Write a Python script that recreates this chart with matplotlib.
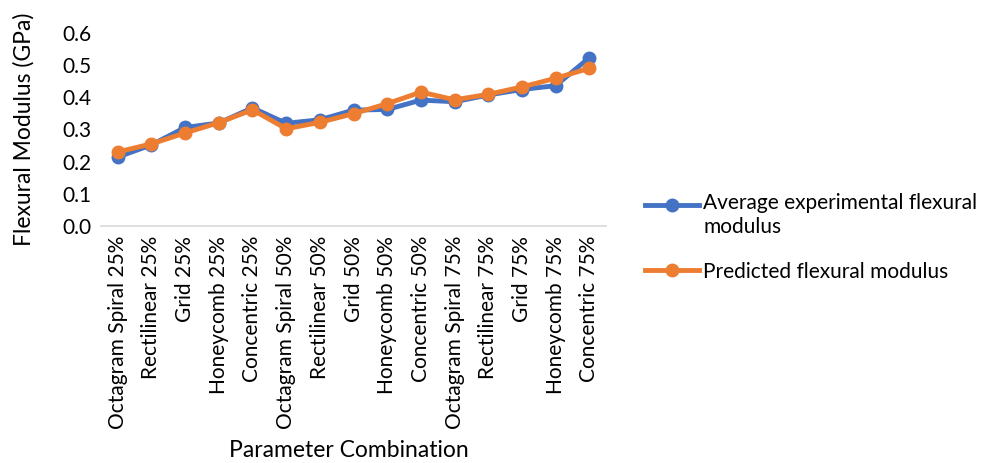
import matplotlib
matplotlib.use("Agg")
import matplotlib.pyplot as plt
from matplotlib.legend_handler import HandlerLine2D

plt.rcParams['font.family'] = ['Lato', 'DejaVu Sans']

categories = [
    "Octagram Spiral 25%", "Rectilinear 25%", "Grid 25%", "Honeycomb 25%", "Concentric 25%",
    "Octagram Spiral 50%", "Rectilinear 50%", "Grid 50%", "Honeycomb 50%", "Concentric 50%",
    "Octagram Spiral 75%", "Rectilinear 75%", "Grid 75%", "Honeycomb 75%", "Concentric 75%",
]
experimental = [0.214, 0.252, 0.306, 0.320, 0.367, 0.319, 0.330, 0.360, 0.362, 0.391,
                0.386, 0.407, 0.424, 0.436, 0.523]
predicted = [0.230, 0.255, 0.289, 0.321, 0.361, 0.302, 0.322, 0.349, 0.380, 0.416,
             0.392, 0.409, 0.432, 0.459, 0.490]


class TopLineHandler(HandlerLine2D):
    """Legend handle aligned with the first line of a wrapped label."""

    def __init__(self, shift, **kw):
        super().__init__(**kw)
        self.shift = shift

    def create_artists(self, *args, **kwargs):
        artists = super().create_artists(*args, **kwargs)
        for a in artists:
            a.set_ydata([y + self.shift for y in a.get_ydata()])
        return artists


fig = plt.figure(figsize=(9.89, 4.63), dpi=100)
ax = fig.add_axes([0.102, 0.512, 0.511, 0.417])

x = range(len(categories))
l1, = ax.plot(x, experimental, color="#4472C4", lw=3.5, marker="o", ms=9,
              label="Average experimental flexural\nmodulus", zorder=3)
l2, = ax.plot(x, predicted, color="#ED7D31", lw=3.5, marker="o", ms=9,
              label="Predicted flexural modulus", zorder=4)

ax.set_xlim(-0.5, len(categories) - 0.5)
ax.set_ylim(0, 0.6)
yt = [0.0, 0.1, 0.2, 0.3, 0.4, 0.5, 0.6]
ax.set_yticks(yt)
ax.set_yticklabels([f"{v:.1f}" for v in yt], fontsize=15)
ax.set_xticks(list(x))
ax.set_xticklabels(categories, rotation=90, fontsize=15)
ax.tick_params(axis="both", length=0, pad=7)

for s in ["top", "right", "left"]:
    ax.spines[s].set_visible(False)
ax.spines["bottom"].set_color("#D9D9D9")
ax.spines["bottom"].set_linewidth(1.2)

ax.set_ylabel("Flexural Modulus (GPa)", fontsize=16.5, labelpad=20)
fig.text(0.353, 0.005, "Parameter Combination", fontsize=16.5, ha="center", va="bottom")

leg = ax.legend(loc="center left", bbox_to_anchor=(1.06, -0.06), frameon=False,
                fontsize=15, handlelength=2.6, labelspacing=1.2, handletextpad=0.2,
                borderaxespad=0, handler_map={l1: TopLineHandler(shift=8.0)})

fig.savefig("out.png", dpi=100)
